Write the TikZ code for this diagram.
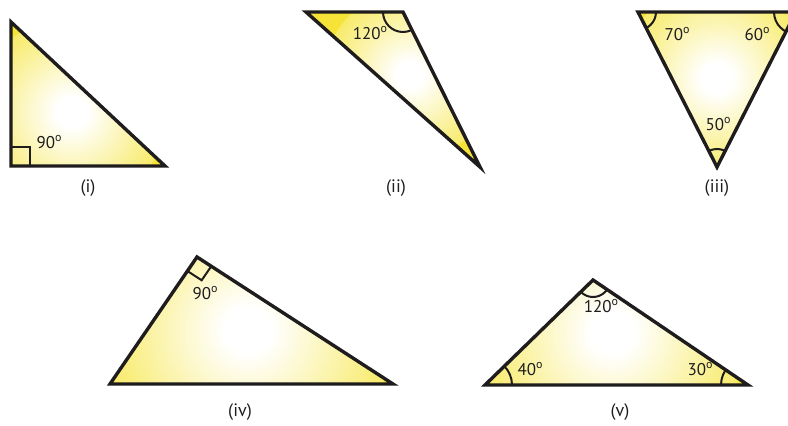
\documentclass[tikz,border=0pt]{standalone}
\usepackage{fontspec}
\setmainfont{PT Sans}
\usetikzlibrary{calc}
\definecolor{ty}{RGB}{245,228,55}
\definecolor{ink}{RGB}{30,28,28}
\pgfdeclareradialshading{glow}{\pgfpoint{0bp}{0bp}}{color(0bp)=(white); color(4bp)=(white); color(32bp)=(ty); color(50bp)=(ty)}
\newcommand\dg{\raisebox{0.38em}{\fontsize{12}{12}\selectfont o}}
\tikzset{
  tri/.style={draw=ink, line width=3.4pt, line join=miter},
  ang/.style={draw=ink, line width=2pt},
  lbl/.style={font=\fontsize{17}{17}\selectfont, text=ink, inner sep=0pt},
  captxt/.style={font=\fontsize{18}{18}\selectfont, text=ink, inner sep=0pt}
}
\begin{document}
\begin{tikzpicture}[x=1pt,y=-1pt]
\useasboundingbox (0,0) rectangle (788,426);
\clip (0,0) rectangle (788,426);
% ---------- (i)
\coordinate (A1) at (11,22); \coordinate (B1) at (11,166); \coordinate (C1) at (165,166);
\begin{scope}
  \clip (A1) -- (B1) -- (C1) -- cycle;
  \fill[ty] (A1) -- (B1) -- (C1) -- cycle;
  \shade[shading=glow] (72,112) circle (95);
\end{scope}
\draw[ang] ($(B1)!19pt!(A1)$) -- ($($(B1)!19pt!(A1)$)+($(B1)!19pt!(C1)$)-(B1)$) -- ($(B1)!19pt!(C1)$);
\draw[tri] (A1) -- (B1) -- (C1) -- cycle;
\node[lbl] (t1) at (49,142) {90\dg};
\node[captxt] (c1) at (88,188) {(i)};
% ---------- (ii)
\coordinate (A2) at (306,12); \coordinate (B2) at (403,12); \coordinate (C2) at (480,167);
\begin{scope}
  \clip (A2) -- (B2) -- (C2) -- cycle;
  \fill[ty] (A2) -- (B2) -- (C2) -- cycle;
  \shade[shading=glow] (410,75) circle (85);
  \draw[ang] (B2) circle (20);
\end{scope}
\draw[tri] (A2) -- (B2) -- (C2) -- cycle;
\node[lbl] (t2) at (370,33) {120\dg};
\node[captxt] (c2) at (396,188) {(ii)};
% ---------- (iii)
\coordinate (A3) at (638,12); \coordinate (B3) at (796,12); \coordinate (C3) at (717,167);
\begin{scope}
  \clip (A3) -- (B3) -- (C3) -- cycle;
  \fill[ty] (A3) -- (B3) -- (C3) -- cycle;
  \shade[shading=glow] (717,78) circle (95);
  \draw[ang] (A3) circle (18);
  \draw[ang] (B3) circle (22);
  \draw[ang] (C3) circle (18);
\end{scope}
\draw[tri] (A3) -- (B3) -- (C3) -- cycle;
\node[lbl] (t3a) at (677,34) {70\dg};
\node[lbl] (t3b) at (757,34) {60\dg};
\node[lbl] (t3c) at (718,124) {50\dg};
\node[captxt] (c3) at (717,188) {(iii)};
% ---------- (iv)
\coordinate (A4) at (197,257); \coordinate (B4) at (110,384); \coordinate (C4) at (393,384);
\begin{scope}
  \clip (A4) -- (B4) -- (C4) -- cycle;
  \fill[ty] (A4) -- (B4) -- (C4) -- cycle;
  \shade[shading=glow] (248,330) circle (145);
\end{scope}
\draw[ang] ($(A4)!17pt!(B4)$) -- ($($(A4)!17pt!(B4)$)+($(A4)!17pt!(C4)$)-(A4)$) -- ($(A4)!17pt!(C4)$);
\draw[tri] (A4) -- (B4) -- (C4) -- cycle;
\node[lbl] (t4) at (205,293) {90\dg};
\node[captxt] (c4) at (240,412) {(iv)};
% ---------- (v)
\coordinate (A5) at (593,280); \coordinate (B5) at (485,385); \coordinate (C5) at (748,385);
\begin{scope}
  \clip (A5) -- (B5) -- (C5) -- cycle;
  \fill[ty] (A5) -- (B5) -- (C5) -- cycle;
  \shade[shading=glow] (612,332) circle (135);
  \draw[ang] (A5) circle (17);
  \draw[ang] (B5) circle (27);
  \draw[ang] (C5) circle (27);
\end{scope}
\draw[tri] (A5) -- (B5) -- (C5) -- cycle;
\node[lbl] (t5a) at (601,306) {120\dg};
\node[lbl] (t5b) at (530,369) {40\dg};
\node[lbl] (t5c) at (700,369) {30\dg};
\node[captxt] (c5) at (620,412) {(v)};
\end{tikzpicture}
\end{document}
